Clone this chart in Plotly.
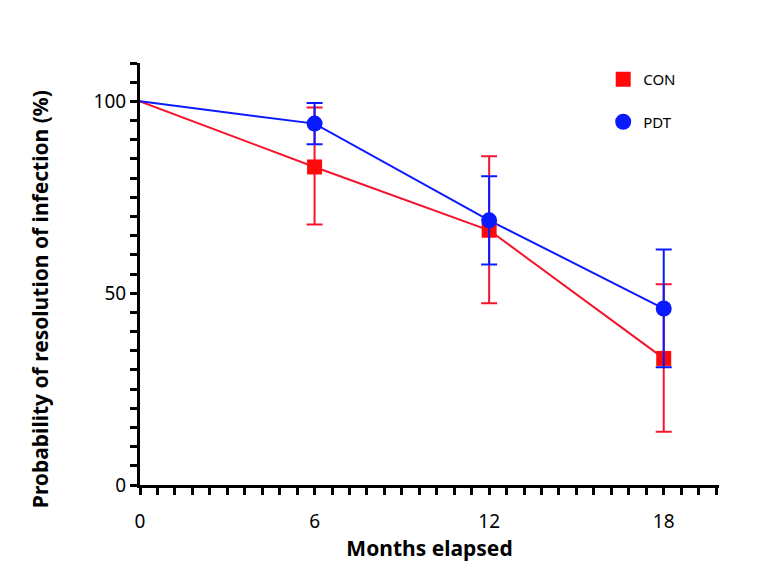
import plotly.graph_objects as go

months = [0, 6, 12, 18]
con_vals = [100, 82.9, 66.4, 33.0]
con_upper = [100, 98.4, 85.7, 52.3]
con_lower = [100, 67.9, 47.4, 13.9]
pdt_vals = [100, 94.2, 69.0, 46.0]
pdt_upper = [100, 99.6, 80.5, 61.4]
pdt_lower = [100, 88.8, 57.5, 30.7]

def errs(vals, up, lo):
    plus = [u - v for u, v in zip(up, vals)]
    minus = [v - l for v, l in zip(vals, lo)]
    return plus, minus

con_p, con_m = errs(con_vals, con_upper, con_lower)
pdt_p, pdt_m = errs(pdt_vals, pdt_upper, pdt_lower)

RED = "#ff0a0a"
RED_LINE = "#f5142e"
BLUE = "#0a1aff"

fig = go.Figure()
# connecting lines (include starting point at 0 without marker)
fig.add_trace(go.Scatter(x=months, y=con_vals, mode="lines", showlegend=False,
                         line=dict(color=RED_LINE, width=2), hoverinfo="skip"))
fig.add_trace(go.Scatter(x=months, y=pdt_vals, mode="lines", showlegend=False,
                         line=dict(color=BLUE, width=2), hoverinfo="skip"))
# markers with error bars (from month 6 on)
fig.add_trace(go.Scatter(
    x=months[1:], y=con_vals[1:], name="CON", mode="markers", legendgroup="a",
    marker=dict(symbol="square", size=15, color=RED),
    error_y=dict(type="data", symmetric=False, array=con_p[1:], arrayminus=con_m[1:],
                 color=RED_LINE, thickness=2, width=8),
))
fig.add_trace(go.Scatter(
    x=months[1:], y=pdt_vals[1:], name="PDT", mode="markers", legendgroup="b",
    marker=dict(symbol="circle", size=16, color=BLUE),
    error_y=dict(type="data", symmetric=False, array=pdt_p[1:], arrayminus=pdt_m[1:],
                 color=BLUE, thickness=2, width=8),
))

fig.update_layout(
    width=780, height=577,
    margin=dict(l=140, r=61, t=63, b=92),
    paper_bgcolor="white", plot_bgcolor="white",
    font=dict(family="Noto Sans", color="black"),
    showlegend=True,
    legend=dict(x=0.8, y=1.0, xanchor="left", yanchor="top",
                font=dict(size=15, color="black"), tracegroupgap=20,
                itemwidth=30, bgcolor="rgba(0,0,0,0)"),
    xaxis=dict(
        range=[0, 19.9], showgrid=False, zeroline=False,
        showline=True, linecolor="black", linewidth=3,
        tickmode="array", tickvals=[0, 6, 12, 18], ticktext=["0", "6", "12", "18"],
        ticks="outside", ticklen=7, tickwidth=3, tickcolor="black",
        tickfont=dict(size=19, color="black"), ticklabelstandoff=10,
        minor=dict(tick0=0, dtick=0.6, ticks="outside", ticklen=7, tickwidth=3,
                   tickcolor="black", showgrid=False),
        title=dict(text="<b>Months elapsed</b>", font=dict(size=21, color="black"),
                   standoff=6),
    ),
    yaxis=dict(
        range=[0, 110], showgrid=False, zeroline=False,
        showline=True, linecolor="black", linewidth=3,
        tickmode="array", tickvals=[0, 50, 100], ticktext=["0", "50", "100"],
        ticks="outside", ticklen=7, tickwidth=3, tickcolor="black",
        tickfont=dict(size=19, color="black"),
        minor=dict(tick0=0, dtick=5, ticks="outside", ticklen=7, tickwidth=3,
                   tickcolor="black", showgrid=False),
    ),
    annotations=[dict(
        text="<b>Probability of resolution of infection (%)</b>",
        textangle=-90, xref="paper", yref="paper",
        x=-0.173, y=0.44, xanchor="center", yanchor="middle",
        showarrow=False, font=dict(size=21, color="black"),
    )],
)

fig.write_html("out.html")
